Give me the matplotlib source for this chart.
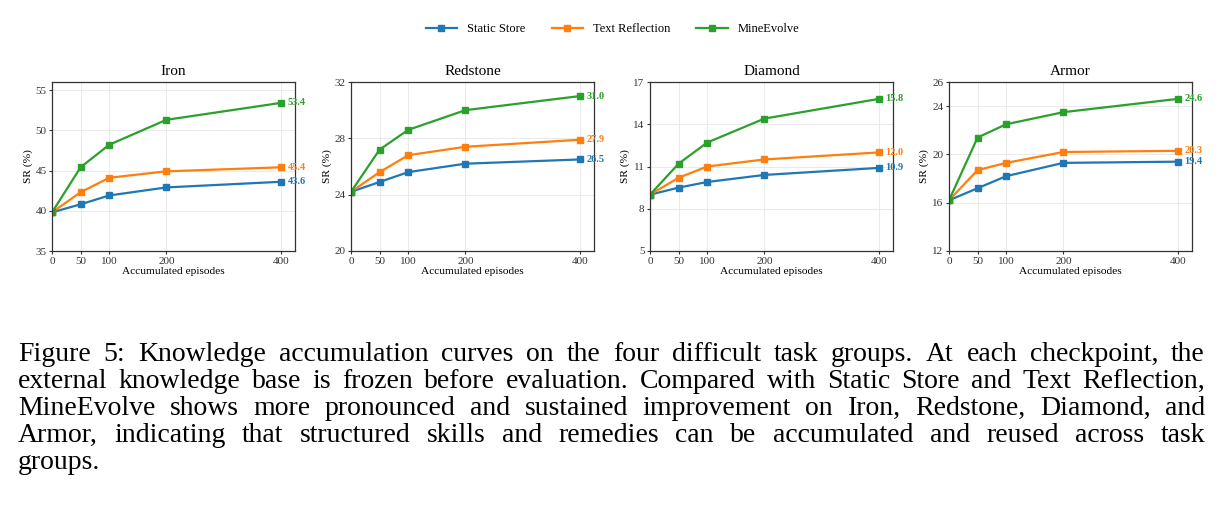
import matplotlib
matplotlib.use('Agg')
import matplotlib.pyplot as plt

plt.rcParams['font.family'] = ['Liberation Serif', 'DejaVu Serif']

# Data
episodes = [0, 50, 100, 200, 400]
groups = ['Iron', 'Redstone', 'Diamond', 'Armor']
methods = ['Static Store', 'Text Reflection', 'MineEvolve']
colors = ['#1f77b4', '#ff7f0e', '#2ca02c']

iron_static = [39.8, 40.8, 41.9, 42.9, 43.6]
iron_text = [39.8, 42.3, 44.1, 44.9, 45.4]
iron_mine = [39.8, 45.4, 48.2, 51.3, 53.4]

redstone_static = [24.2, 24.9, 25.6, 26.2, 26.5]
redstone_text = [24.2, 25.6, 26.8, 27.4, 27.9]
redstone_mine = [24.2, 27.2, 28.6, 30.0, 31.0]

diamond_static = [9.0, 9.5, 9.9, 10.4, 10.9]
diamond_text = [9.0, 10.2, 11.0, 11.5, 12.0]
diamond_mine = [9.0, 11.2, 12.7, 14.4, 15.8]

armor_static = [16.2, 17.2, 18.2, 19.3, 19.4]
armor_text = [16.2, 18.7, 19.3, 20.2, 20.3]
armor_mine = [16.2, 21.4, 22.5, 23.5, 24.6]

series = {
    'Iron': [iron_static, iron_text, iron_mine],
    'Redstone': [redstone_static, redstone_text, redstone_mine],
    'Diamond': [diamond_static, diamond_text, diamond_mine],
    'Armor': [armor_static, armor_text, armor_mine],
}
ylims = {'Iron': (35, 56), 'Redstone': (20, 32), 'Diamond': (5, 17), 'Armor': (12, 26)}
yticks = {'Iron': [35, 40, 45, 50, 55], 'Redstone': [20, 24, 28, 32],
          'Diamond': [5, 8, 11, 14, 17], 'Armor': [12, 16, 20, 24, 26]}

caption = [
    "Figure 5: Knowledge accumulation curves on the four difficult task groups. At each checkpoint, the",
    "external knowledge base is frozen before evaluation. Compared with Static Store and Text Reflection,",
    "MineEvolve shows more pronounced and sustained improvement on Iron, Redstone, Diamond, and",
    "Armor, indicating that structured skills and remedies can be accumulated and reused across task",
    "groups.",
]

W, H = 1225, 514
fig = plt.figure(figsize=(W / 100, H / 100), dpi=100)

lefts = [52, 351, 650, 949]
ax_w, ax_top, ax_bot = 243, 82, 251

handles = []
for g, left in zip(groups, lefts):
    ax = fig.add_axes([left / W, 1 - ax_bot / H, ax_w / W, (ax_bot - ax_top) / H])
    for vals, name, c in zip(series[g], methods, colors):
        h, = ax.plot(episodes, vals, marker='s', markersize=4.5, lw=1.6, color=c, label=name)
        if g == 'Iron':
            handles.append(h)
        ax.annotate(f'{vals[-1]:.1f}', (episodes[-1], vals[-1]), xytext=(5, 0),
                    textcoords='offset points', va='center', ha='left', color=c,
                    fontsize=7.5, fontweight='bold', annotation_clip=False)
    ax.set_xlim(0, 425)
    ax.set_ylim(*ylims[g])
    ax.set_xticks(episodes)
    ax.set_yticks(yticks[g])
    ax.tick_params(labelsize=8, length=2.5, width=0.8, pad=1.5, colors='#333333')
    ax.grid(True, color='#e6e6e6', lw=0.6)
    ax.set_axisbelow(True)
    for s in ax.spines.values():
        s.set_color('#333333')
        s.set_linewidth(0.9)
    ax.set_title(g, fontsize=11, pad=5)
    ax.set_xlabel('Accumulated episodes', fontsize=8.2, labelpad=1)
    ax.set_ylabel('SR (%)', fontsize=8.2, labelpad=2)

fig.legend(handles=handles, loc='center', bbox_to_anchor=(0.5, 1 - 29 / H), ncol=3,
           frameon=False, fontsize=9, columnspacing=2.1, handlelength=2.5)

# Caption, justified between x0 and x1
renderer = fig.canvas.get_renderer()
x0, x1 = 18, 1205
baselines = [361, 388, 415, 442, 469]
fsize = 20

sp_t = fig.text(0, 0, 'a b', fontsize=fsize)
ab_t = fig.text(0, 0, 'ab', fontsize=fsize)
normal_gap = sp_t.get_window_extent(renderer).width - ab_t.get_window_extent(renderer).width
sp_t.remove()
ab_t.remove()

for i, (line, yb) in enumerate(zip(caption, baselines)):
    words = line.split(' ')
    texts = [fig.text(0, 1 - yb / H, w, fontsize=fsize, va='baseline', ha='left') for w in words]
    widths = [t.get_window_extent(renderer).width for t in texts]
    if i < len(caption) - 1:
        gap = (x1 - x0 - sum(widths)) / (len(words) - 1)
    else:
        gap = normal_gap
    x = x0
    for t, w in zip(texts, widths):
        t.set_x(x / W)
        x += w + gap

fig.savefig('out.png', dpi=100)
